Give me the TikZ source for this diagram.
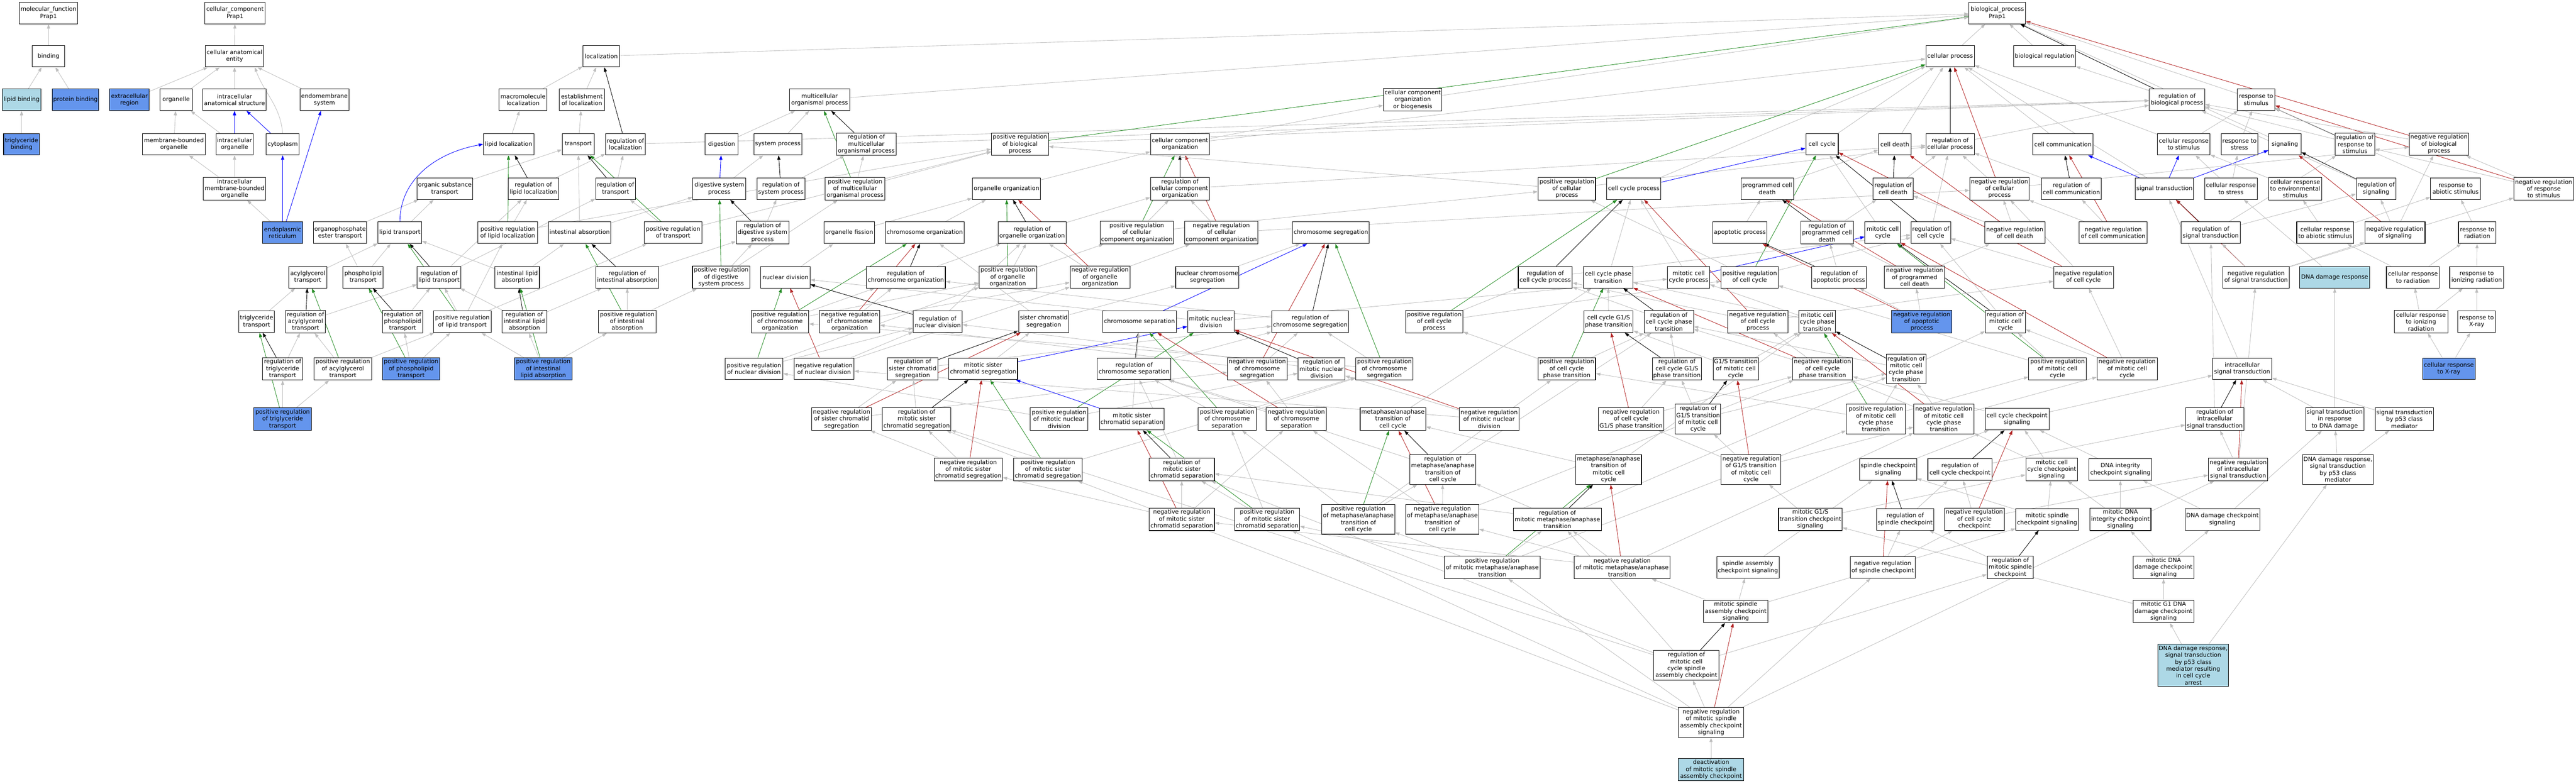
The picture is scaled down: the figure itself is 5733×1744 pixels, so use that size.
\documentclass[tikz,border=0pt]{standalone}
\usepackage{fontspec}
\setmainfont{DejaVu Sans}
\usetikzlibrary{arrows.meta,backgrounds}
\definecolor{edgegray}{RGB}{190,190,190}
\definecolor{cornblue}{RGB}{100,149,237}
\definecolor{lightblueC}{RGB}{173,216,230}
\definecolor{fgreen}{RGB}{34,139,34}
\definecolor{fred}{RGB}{178,34,34}
\newcommand{\gofont}{\fontsize{13}{15.3}\selectfont}
\newcommand{\GN}[6][]{\node[gn,minimum width=#5pt,#1] (#2) at (#3,#4) {#6};}
\newcommand{\EdI}[2]{\draw[eisa] (#1) -- (#2);}
\newcommand{\EdP}[2]{\draw[epart] (#1) -- (#2);}
\newcommand{\EdR}[2]{\draw[ereg] (#1) -- (#2);}
\newcommand{\EdG}[2]{\draw[epos] (#1) -- (#2);}
\newcommand{\EdN}[2]{\draw[eneg] (#1) -- (#2);}
\tikzset{
 gn/.style={draw=black, line width=1.2pt, fill=white, align=center, inner sep=1pt, minimum height=48pt, font=\gofont, text=black},
 h3/.style={minimum height=50pt},
 h4/.style={minimum height=66pt},
 h6/.style={minimum height=94pt},
 fdb/.style={fill=cornblue},
 flb/.style={fill=lightblueC},
 ebase/.style={line width=1pt, -{Triangle[length=10pt,width=7pt]}},
 eisa/.style={ebase, draw=edgegray},
 epart/.style={ebase, draw=blue},
 ereg/.style={ebase, draw=black},
 epos/.style={ebase, draw=fgreen},
 eneg/.style={ebase, draw=fred}
}
\begin{document}
\begin{tikzpicture}[x=1pt,y=-1pt]
\useasboundingbox (0,0) rectangle (5733,1744);
% r0
\GN{mf}{108}{29}{130}{molecular\_function\\Prap1}
\GN{cc}{523}{29}{134}{cellular\_component\\Prap1}
\GN{bp}{4445}{29}{126}{biological\_process\\Prap1}
% r1
\GN{binding}{108}{125}{72}{binding}
\GN{cae}{522}{125}{130}{cellular anatomical\\entity}
\GN{loc}{1338}{125}{81}{localization}
\GN{cellproc}{4340}{125}{108}{cellular process}
\GN{bioreg}{4550}{125}{138}{biological regulation}
% r2
\GN[flb]{lipidbind}{48}{222}{86}{lipid binding}
\GN[fdb]{protbind}{168}{222}{104}{protein binding}
\GN[fdb]{extreg}{288}{222}{88}{extracellular\\region}
\GN{organelle}{392}{222}{72}{organelle}
\GN{ias}{522}{222}{141}{intracellular\\anatomical structure}
\GN{endomem}{722}{222}{109}{endomembrane\\system}
\GN{macroloc}{1164}{222}{106}{macromolecule\\localization}
\GN{estloc}{1295}{222}{100}{establishment\\of localization}
\GN{mop}{1824}{222}{134}{multicellular\\organismal process}
\GN[h3]{ccob}{3144}{222}{130}{cellular component\\organization\\or biogenesis}
\GN{rbp}{4845}{222}{123}{regulation of\\biological process}
\GN{rts}{5021}{222}{83}{response to\\stimulus}
% r3
\GN[fdb]{tgbind}{48}{321}{80}{triglyceride\\binding}
\GN{mbo}{387}{321}{139}{membrane-bounded\\organelle}
\GN{io}{522}{321}{83}{intracellular\\organelle}
\GN{cytoplasm}{629}{321}{74}{cytoplasm}
\GN{lipidloc}{1132}{321}{112}{lipid localization}
\GN{transport}{1287}{321}{72}{transport}
\GN{regloc}{1392}{321}{88}{regulation of\\localization}
\GN{digestion}{1606}{321}{73}{digestion}
\GN{sysproc}{1731}{321}{107}{system process}
\GN[h3]{rmop}{1928}{321}{132}{regulation of\\multicellular\\organismal process}
\GN[h3]{prbp}{2270}{321}{127}{positive regulation\\of biological\\process}
\GN{cco}{2626}{321}{131}{cellular component\\organization}
\GN{cellcycle}{4055}{321}{72}{cell cycle}
\GN{celldeath}{4217}{321}{72}{cell death}
\GN{rcp}{4340}{321}{108}{regulation of\\cellular process}
\GN{cellcomm}{4591}{321}{134}{cell communication}
\GN{crs}{4860}{321}{117}{cellular response\\to stimulus}
\GN{rtstress}{4984}{321}{82}{response to\\stress}
\GN{signaling}{5085}{321}{72}{signaling}
\GN[h3]{rrs}{5241}{321}{88}{regulation of\\response to\\stimulus}
\GN[h3]{nrbp}{5428}{321}{132}{negative regulation\\of biological\\process}
% r4
\GN[h3]{imbo}{522}{420}{139}{intracellular\\membrane-bounded\\organelle}
\GN{ost}{990}{420}{123}{organic substance\\transport}
\GN{rll}{1187}{420}{112}{regulation of\\lipid localization}
\GN{rtrans}{1370}{420}{89}{regulation of\\transport}
\GN{dsp}{1601}{420}{118}{digestive system\\process}
\GN{rsp}{1738}{420}{107}{regulation of\\system process}
\GN[h3]{prmop}{1903}{420}{133}{positive regulation\\of multicellular\\organismal process}
\GN{oo}{2240}{420}{152}{organelle organization}
\GN[h3]{rcco}{2626}{420}{131}{regulation of\\cellular component\\organization}
\GN[h3]{prcp}{3487}{420}{128}{positive regulation\\of cellular\\process}
\GN{ccp}{3636}{420}{121}{cell cycle process}
\GN{pcd}{3933}{420}{117}{programmed cell\\death}
\GN{rcd}{4213}{420}{89}{regulation of\\cell death}
\GN[h3]{nrcp}{4450}{420}{132}{negative regulation\\of cellular\\process}
\GN{rcc}{4610}{420}{133}{regulation of\\cell communication}
\GN{st}{4817}{420}{130}{signal transduction}
\GN{crstress}{4965}{420}{117}{cellular response\\to stress}
\GN[h3]{cres}{5108}{420}{119}{cellular response\\to environmental\\stimulus}
\GN{rsig}{5288}{420}{88}{regulation of\\signaling}
\GN{ras}{5465}{420}{111}{response to\\abiotic stimulus}
\GN[h3]{nrrs}{5661}{420}{133}{negative regulation\\of response\\to stimulus}
% r5
\GN[fdb]{er}{629}{518}{89}{endoplasmic\\reticulum}
\GN{opet}{757}{518}{118}{organophosphate\\ester transport}
\GN{lipidtrans}{890}{518}{97}{lipid transport}
\GN{prll}{1130}{518}{132}{positive regulation\\of lipid localization}
\GN{intabs}{1290}{518}{139}{intestinal absorption}
\GN{prtrans}{1498}{518}{128}{positive regulation\\of transport}
\GN[h3]{rdsp}{1697}{518}{117}{regulation of\\digestive system\\process}
\GN{ofission}{1890}{518}{113}{organelle fission}
\GN{chromorg}{2058}{518}{175}{chromosome organization}
\GN{roo}{2297}{518}{152}{regulation of\\organelle organization}
\GN[h3]{prcco}{2530}{518}{163}{positive regulation\\of cellular\\component organization}
\GN[h3]{nrcco}{2718}{518}{162}{negative regulation\\of cellular\\component organization}
\GN{chromseg}{2962}{518}{171}{chromosome segregation}
\GN{apop}{3872}{518}{120}{apoptotic process}
\GN[h3]{rpcd}{4066}{518}{117}{regulation of\\programmed cell\\death}
\GN{mcc}{4190}{518}{79}{mitotic cell\\cycle}
\GN{rcellcycle}{4297}{518}{88}{regulation of\\cell cycle}
\GN{nrcd}{4484}{518}{134}{negative regulation\\of cell death}
\GN{nrcc}{4703}{518}{151}{negative regulation\\of cell communication}
\GN{rst}{4920}{518}{131}{regulation of\\signal transduction}
\GN{crabs}{5175}{518}{127}{cellular response\\to abiotic stimulus}
\GN{nrsig}{5330}{518}{134}{negative regulation\\of signaling}
\GN{rtrad}{5513}{518}{83}{response to\\radiation}
% r6
\GN{agt}{685}{617}{85}{acylglycerol\\transport}
\GN{plt}{808}{617}{89}{phospholipid\\transport}
\GN{rlt}{977}{617}{97}{regulation of\\lipid transport}
\GN{ila}{1151}{617}{99}{intestinal lipid\\absorption}
\GN{ria}{1396}{617}{139}{regulation of\\intestinal absorption}
\GN[h3]{prdsp}{1605}{617}{128}{positive regulation\\of digestive\\system process}
\GN{nucdiv}{1748}{617}{110}{nuclear division}
\GN{rco}{2016}{617}{176}{regulation of\\chromosome organization}
\GN[h3]{proo}{2243}{617}{128}{positive regulation\\of organelle\\organization}
\GN[h3]{nroo}{2448}{617}{133}{negative regulation\\of organelle\\organization}
\GN{ncs}{2687}{617}{141}{nuclear chromosome\\segregation}
\GN{rccp}{3439}{617}{120}{regulation of\\cell cycle process}
\GN{ccpt}{3579}{617}{110}{cell cycle phase\\transition}
\GN{mccp}{3758}{617}{94}{mitotic cell\\cycle process}
\GN{prcc}{3894}{617}{127}{positive regulation\\of cell cycle}
\GN{rap}{4093}{617}{121}{regulation of\\apoptotic process}
\GN[h3]{nrpcd}{4261}{617}{134}{negative regulation\\of programmed\\cell death}
\GN{nrcellcycle}{4637}{617}{133}{negative regulation\\of cell cycle}
\GN{nrst}{5021}{617}{148}{negative regulation\\of signal transduction}
\GN[flb]{ddr}{5196}{617}{156}{DNA damage response}
\GN{crrad}{5370}{617}{118}{cellular response\\to radiation}
\GN{rir}{5512}{617}{120}{response to\\ionizing radiation}
% r7
\GN{tgt}{571}{716}{80}{triglyceride\\transport}
\GN[h3]{rat}{680}{716}{89}{regulation of\\acylglycerol\\transport}
\GN[h3]{rplt}{896}{716}{90}{regulation of\\phospholipid\\transport}
\GN{prlt}{1029}{716}{128}{positive regulation\\of lipid transport}
\GN[h3]{rila}{1167}{716}{100}{regulation of\\intestinal lipid\\absorption}
\GN[h3]{pria}{1396}{716}{128}{positive regulation\\of intestinal\\absorption}
\GN[h3]{prco}{1736}{716}{128}{positive regulation\\of chromosome\\organization}
\GN[h3]{nrco}{1891}{716}{134}{negative regulation\\of chromosome\\organization}
\GN{rnd}{2087}{716}{109}{regulation of\\nuclear division}
\GN{scs}{2323}{716}{112}{sister chromatid\\segregation}
\GN{csep}{2536}{716}{164}{chromosome separation}
\GN{mnd}{2695}{716}{104}{mitotic nuclear\\division}
\GN{rcs}{2916}{716}{171}{regulation of\\chromosome segregation}
\GN[h3]{prccp}{3192}{716}{128}{positive regulation\\of cell cycle\\process}
\GN{g1s}{3580}{716}{109}{cell cycle G1/S\\phase transition}
\GN[h3]{rccpt}{3714}{716}{110}{regulation of\\cell cycle phase\\transition}
\GN[h3]{nrccp}{3912}{716}{134}{negative regulation\\of cell cycle\\process}
\GN[h3]{mccpt}{4044}{716}{82}{mitotic cell\\cycle phase\\transition}
\GN[h3,fdb]{nrap}{4277}{716}{134}{negative regulation\\of apoptotic\\process}
\GN[h3]{rmcc}{4463}{716}{89}{regulation of\\mitotic cell\\cycle}
\GN[h3]{crir}{5388}{716}{119}{cellular response\\to ionizing\\radiation}
\GN{rxray}{5512}{716}{84}{response to\\X-ray}
% r8
\GN[h3]{rtgt}{629}{821}{89}{regulation of\\triglyceride\\transport}
\GN[h3]{prat}{763}{821}{129}{positive regulation\\of acylglycerol\\transport}
\GN[h3,fdb]{prplt}{915}{821}{128}{positive regulation\\of phospholipid\\transport}
\GN[h3,fdb]{prila}{1209}{821}{128}{positive regulation\\of intestinal\\lipid absorption}
\GN{prnd}{1678}{821}{129}{positive regulation\\of nuclear division}
\GN{nrnd}{1834}{821}{133}{negative regulation\\of nuclear division}
\GN[h3]{rscs}{2031}{821}{113}{regulation of\\sister chromatid\\segregation}
\GN{mscs}{2188}{821}{153}{mitotic sister\\chromatid segregation}
\GN{rcsep}{2524}{821}{164}{regulation of\\chromosome separation}
\GN[h3]{nrcs}{2798}{821}{133}{negative regulation\\of chromosome\\segregation}
\GN[h3]{rmnd}{2941}{821}{104}{regulation of\\mitotic nuclear\\division}
\GN[h3]{prcs}{3081}{821}{128}{positive regulation\\of chromosome\\segregation}
\GN[h3]{prccpt}{3487}{821}{128}{positive regulation\\of cell cycle\\phase transition}
\GN[h3]{rg1s}{3732}{821}{109}{regulation of\\cell cycle G1/S\\phase transition}
\GN[h3]{g1smcc}{3863}{821}{101}{G1/S transition\\of mitotic cell\\cycle}
\GN[h3]{nrccpt}{4056}{821}{134}{negative regulation\\of cell cycle\\phase transition}
\GN[h4]{rmccpt}{4242}{821}{88}{regulation of\\mitotic cell\\cycle phase\\transition}
\GN[h3]{prmcc}{4579}{821}{128}{positive regulation\\of mitotic cell\\cycle}
\GN[h3]{nrmcc}{4734}{821}{134}{negative regulation\\of mitotic cell\\cycle}
\GN{ist}{4990}{821}{131}{intracellular\\signal transduction}
\GN[fdb]{crxray}{5450}{821}{117}{cellular response\\to X-ray}
% r9
\GN[h3,fdb]{prtgt}{629}{933}{128}{positive regulation\\of triglyceride\\transport}
\GN[h3]{nrscs}{1873}{933}{133}{negative regulation\\of sister chromatid\\segregation}
\GN[h3]{rmscs}{2040}{933}{153}{regulation of\\mitotic sister\\chromatid segregation}
\GN[h3]{prmnd}{2357}{933}{128}{positive regulation\\of mitotic nuclear\\division}
\GN{msep}{2519}{933}{144}{mitotic sister\\chromatid separation}
\GN[h3]{prcsep}{2731}{933}{129}{positive regulation\\of chromosome\\separation}
\GN[h3]{nrcsep}{2885}{933}{134}{negative regulation\\of chromosome\\separation}
\GN[h3]{mact}{3100}{933}{146}{metaphase/anaphase\\transition of\\cell cycle}
\GN[h3]{nrmnd}{3314}{933}{133}{negative regulation\\of mitotic nuclear\\division}
\GN[h3]{nrg1s}{3630}{933}{145}{negative regulation\\of cell cycle\\G1/S phase transition}
\GN[h4]{rg1smcc}{3779}{933}{101}{regulation of\\G1/S transition\\of mitotic cell\\cycle}
\GN[h4]{prmccpt}{4175}{933}{132}{positive regulation\\of mitotic cell\\cycle phase\\transition}
\GN[h4]{nrmccpt}{4326}{933}{134}{negative regulation\\of mitotic cell\\cycle phase\\transition}
\GN{ccchk}{4489}{933}{142}{cell cycle checkpoint\\signaling}
\GN[h3]{rist}{4929}{933}{130}{regulation of\\intracellular\\signal transduction}
\GN[h3]{stdna}{5196}{933}{130}{signal transduction\\in response\\to DNA damage}
\GN[h3]{stp53}{5351}{933}{130}{signal transduction\\by p53 class\\mediator}
% r10
\GN[h3]{nrmscs}{2155}{1045}{152}{negative regulation\\of mitotic sister\\chromatid segregation}
\GN[h3]{prmscs}{2332}{1045}{152}{positive regulation\\of mitotic sister\\chromatid segregation}
\GN[h3]{rmscsep}{2630}{1045}{145}{regulation of\\mitotic sister\\chromatid separation}
\GN[h4]{rmact}{3211}{1045}{146}{regulation of\\metaphase/anaphase\\transition of\\cell cycle}
\GN[h4]{mamcc}{3580}{1045}{146}{metaphase/anaphase\\transition of\\mitotic cell\\cycle}
\GN[h4]{nrg1smcc}{3897}{1045}{133}{negative regulation\\of G1/S transition\\of mitotic cell\\cycle}
\GN{spchk}{4202}{1045}{127}{spindle checkpoint\\signaling}
\GN{rccchk}{4362}{1045}{143}{regulation of\\cell cycle checkpoint}
\GN[h3]{mccchk}{4566}{1045}{115}{mitotic cell\\cycle checkpoint\\signaling}
\GN{dnaichk}{4719}{1045}{140}{DNA integrity\\checkpoint signaling}
\GN[h3]{nrist}{4981}{1045}{132}{negative regulation\\of intracellular\\signal transduction}
\GN[h4]{ddrp53}{5203}{1045}{157}{DNA damage response,\\signal transduction\\by p53 class\\mediator}
% r11
\GN[h3]{nrmscsep}{2630}{1156}{145}{negative regulation\\of mitotic sister\\chromatid separation}
\GN[h3]{prmscsep}{2820}{1156}{145}{positive regulation\\of mitotic sister\\chromatid separation}
\GN[h4]{prmact}{3023}{1156}{162}{positive regulation\\of metaphase/anaphase\\transition of\\cell cycle}
\GN[h4]{nrmact}{3210}{1156}{162}{negative regulation\\of metaphase/anaphase\\transition of\\cell cycle}
\GN[h3]{rmmat}{3466}{1156}{196}{regulation of\\mitotic metaphase/anaphase\\transition}
\GN[h3]{mg1schk}{4029}{1156}{142}{mitotic G1/S\\transition checkpoint\\signaling}
\GN{rspchk}{4240}{1156}{127}{regulation of\\spindle checkpoint}
\GN[h3]{nrccchk}{4394}{1156}{133}{negative regulation\\of cell cycle\\checkpoint}
\GN{mspchk}{4556}{1156}{139}{mitotic spindle\\checkpoint signaling}
\GN[h3]{mdnaichk}{4719}{1156}{136}{mitotic DNA\\integrity checkpoint\\signaling}
\GN{ddchk}{4946}{1156}{166}{DNA damage checkpoint\\signaling}
% r12
\GN[h3]{prmmat}{3321}{1263}{213}{positive regulation\\of mitotic metaphase/anaphase\\transition}
\GN[h3]{nrmmat}{3610}{1263}{213}{negative regulation\\of mitotic metaphase/anaphase\\transition}
\GN{sacs}{3890}{1263}{139}{spindle assembly\\checkpoint signaling}
\GN{nrspchk}{4190}{1263}{145}{negative regulation\\of spindle checkpoint}
\GN[h3]{rmspchk}{4474}{1263}{103}{regulation of\\mitotic spindle\\checkpoint}
\GN[h3]{mddchk}{4815}{1263}{135}{mitotic DNA\\damage checkpoint\\signaling}
% r13
\GN[h3]{msacs}{3863}{1361}{144}{mitotic spindle\\assembly checkpoint\\signaling}
\GN[h3]{mg1ddchk}{4815}{1361}{135}{mitotic G1 DNA\\damage checkpoint\\signaling}
% r14
\GN[h4]{rmccsac}{3753}{1481}{145}{regulation of\\mitotic cell\\cycle spindle\\assembly checkpoint}
\GN[h6,flb]{ddrp53arrest}{4881}{1481}{158}{DNA damage response,\\signal transduction\\by p53 class\\mediator resulting\\in cell cycle\\arrest}
% r15
\GN[h4]{nrmsacs}{3808}{1608}{145}{negative regulation\\of mitotic spindle\\assembly checkpoint\\signaling}
% r16
\GN[h3,flb]{deact}{3808}{1713}{145}{deactivation\\of mitotic spindle\\assembly checkpoint}

\begin{pgfonlayer}{background}
% top
\EdI{binding}{mf}
\EdI{lipidbind}{binding}
\EdI{protbind}{binding}
\EdI{tgbind}{lipidbind}
\EdI{cae}{cc}
\EdI{extreg}{cae}
\EdI{organelle}{cae}
\EdI{ias}{cae}
\draw[eisa] (cytoplasm.north) to[out=95,in=-70] ([xshift=45pt]cae.south);
\EdI{endomem}{cae}
\EdI{mbo}{organelle}
\EdI{io}{organelle}
\EdP{io}{ias}
\EdP{cytoplasm}{ias}
\EdI{imbo}{mbo}
\EdI{imbo}{io}
\EdI{er}{imbo}
\EdP{er}{cytoplasm}
\EdP{er}{endomem}
\EdI{loc}{bp}
\EdI{macroloc}{loc}
\EdI{estloc}{loc}
\EdR{regloc}{loc}
\EdI{lipidloc}{macroloc}
\EdI{transport}{estloc}
\EdI{regloc}{rbp}
\EdI{ost}{transport}
\EdR{rll}{lipidloc}
\EdI{rll}{regloc}
\EdR{rtrans}{transport}
\EdI{rtrans}{regloc}
\EdI{opet}{ost}
\EdI{lipidtrans}{ost}
\draw[epart] (lipidtrans.north) to[out=90,in=190] (lipidloc.west);
\EdG{prll}{lipidloc}
\EdI{prll}{rll}
\EdI{prll}{prbp}
\EdI{intabs}{transport}
\EdI{intabs}{dsp}
\EdG{prtrans}{transport}
\EdI{prtrans}{rtrans}
\EdI{prtrans}{prbp}
\EdI{mop}{bp}
\EdI{digestion}{mop}
\EdI{sysproc}{mop}
\EdR{rmop}{mop}
\EdG{prmop}{mop}
\EdI{rmop}{rbp}
\EdG{prbp}{bp}
\EdI{prbp}{rbp}
\EdI{cco}{ccob}
\EdI{cco}{cellproc}
\EdI{ccob}{bp}
\EdP{dsp}{digestion}
\EdI{dsp}{sysproc}
\EdR{rsp}{sysproc}
\EdI{rsp}{rmop}
\EdI{prmop}{rmop}
\EdI{prmop}{prbp}
\EdI{oo}{cco}
\EdR{rcco}{cco}
\EdI{rcco}{rcp}
\EdR{rdsp}{dsp}
\EdI{rdsp}{rsp}
\EdI{ofission}{oo}
\EdI{chromorg}{oo}
\EdR{roo}{oo}
\EdI{roo}{rcco}
\EdG{prcco}{cco}
\EdI{prcco}{rcco}
\EdI{prcco}{prcp}
\EdN{nrcco}{cco}
\EdI{nrcco}{rcco}
\EdI{nrcco}{nrcp}
\EdG{prcp}{cellproc}
\EdI{prcp}{rcp}
\EdI{prcp}{prbp}
\EdP{ccp}{cellcycle}
\EdI{ccp}{cellproc}
\EdI{pcd}{celldeath}
\EdI{celldeath}{cellproc}
\EdI{cellcycle}{cellproc}
\EdR{rcd}{celldeath}
\EdI{rcd}{rcp}
\EdI{apop}{pcd}
\EdR{rpcd}{pcd}
\EdI{rpcd}{rcd}
\EdN{nrpcd}{pcd}
\EdI{nrpcd}{rpcd}
\EdI{nrpcd}{nrcd}
\EdI{mcc}{cellcycle}
\EdR{rcellcycle}{cellcycle}
\EdI{rcellcycle}{rcp}
\EdN{nrcellcycle}{cellcycle}
\EdI{nrcellcycle}{rcellcycle}
\EdI{nrcellcycle}{nrcp}
\EdG{prcc}{cellcycle}
\EdI{prcc}{rcellcycle}
\EdI{prcc}{prcp}
\EdP{mccp}{mcc}
\EdI{mccp}{ccp}
\EdR{rmcc}{mcc}
\EdI{rmcc}{rcellcycle}
\EdG{prmcc}{mcc}
\EdI{prmcc}{rmcc}
\EdI{prmcc}{prcc}
\EdN{nrmcc}{mcc}
\EdI{nrmcc}{rmcc}
\EdI{nrmcc}{nrcellcycle}
\EdR{rap}{apop}
\EdI{rap}{rpcd}
\EdN{nrap}{apop}
\EdI{nrap}{rap}
\EdI{nrap}{nrpcd}
\EdN{nrcd}{celldeath}
\EdI{nrcd}{rcd}
\EdI{nrcd}{nrcp}
\EdR{rcp}{cellproc}
\EdI{rcp}{rbp}
\EdN{nrcp}{cellproc}
\EdI{nrcp}{rcp}
\EdI{nrcp}{nrbp}
\EdI{cellcomm}{cellproc}
\EdR{rcc}{cellcomm}
\EdI{rcc}{rcp}
\EdN{nrcc}{cellcomm}
\EdI{nrcc}{rcc}
\EdI{nrcc}{nrcp}
\EdP{st}{cellcomm}
\EdP{st}{crs}
\EdP{st}{signaling}
\EdI{st}{cellproc}
\EdR{rst}{st}
\EdI{rst}{rsig}
\EdI{rst}{rrs}
\EdN{nrst}{st}
\EdI{nrst}{rst}
\EdI{nrst}{nrsig}
\EdI{nrst}{nrrs}
\EdI{crs}{rts}
\EdI{crs}{cellproc}
\EdI{rtstress}{rts}
\EdI{signaling}{bp}
\EdR{rrs}{rts}
\EdI{rrs}{rbp}
\EdN{nrrs}{rts}
\EdI{nrrs}{rrs}
\EdI{nrrs}{nrbp}
\EdN{nrbp}{bp}
\EdI{nrbp}{rbp}
\EdR{rbp}{bp}
\EdI{rbp}{bioreg}
\EdI{cellproc}{bp}
\EdI{bioreg}{bp}
\EdI{rts}{bp}
\EdI{crstress}{rtstress}
\EdI{crstress}{crs}
\EdI{cres}{crs}
\EdR{rsig}{signaling}
\EdI{rsig}{rbp}
\EdN{nrsig}{signaling}
\EdI{nrsig}{rsig}
\EdI{nrsig}{nrbp}
\EdI{ras}{rts}
\EdI{crabs}{cres}
\EdI{crabs}{ras}
\EdI{rtrad}{ras}
\EdI{ddr}{crstress}
\EdI{crrad}{rtrad}
\EdI{crrad}{crabs}
\EdI{rir}{rtrad}
\EdI{crir}{crrad}
\EdI{crir}{rir}
\EdI{rxray}{rir}
\EdI{crxray}{crir}
\EdI{crxray}{rxray}
\EdI{ist}{st}
\EdR{rist}{ist}
\EdI{rist}{rst}
\EdN{nrist}{ist}
\EdI{nrist}{rist}
\EdI{nrist}{nrst}
\EdI{stdna}{ist}
\EdI{stdna}{ddr}
\EdI{stp53}{ist}
\EdI{ddrp53}{stdna}
\EdI{ddrp53}{stp53}
\EdI{ccchk}{ist}
\EdI{ccchk}{nrccpt}
\EdR{rccchk}{ccchk}
\EdI{rccchk}{rist}
\EdN{nrccchk}{ccchk}
\EdI{nrccchk}{rccchk}
\EdI{nrccchk}{nrist}
\EdI{mccchk}{ccchk}
\EdI{mccchk}{nrmccpt}
\EdI{dnaichk}{ccchk}
\EdI{spchk}{ccchk}
\EdR{rspchk}{spchk}
\EdI{rspchk}{rccchk}
\EdN{nrspchk}{spchk}
\EdI{nrspchk}{rspchk}
\EdI{nrspchk}{nrccchk}
\EdI{mspchk}{spchk}
\EdI{mspchk}{mccchk}
\EdI{mdnaichk}{dnaichk}
\EdI{mdnaichk}{mccchk}
\EdI{ddchk}{dnaichk}
\EdI{ddchk}{stdna}
\EdI{mddchk}{ddchk}
\EdI{mddchk}{mdnaichk}
\EdI{mg1ddchk}{mddchk}
\EdI{mg1ddchk}{mg1schk}
\EdI{ddrp53arrest}{mg1ddchk}
\EdI{ddrp53arrest}{ddrp53}
\EdR{rmspchk}{mspchk}
\EdI{rmspchk}{rspchk}
\EdI{sacs}{spchk}
\EdI{msacs}{sacs}
\EdI{msacs}{mspchk}
\EdI{msacs}{nrmmat}
\EdR{rmccsac}{msacs}
\EdI{rmccsac}{rmspchk}
\EdI{rmccsac}{rmmat}
\EdI{rmccsac}{rmscs}
\EdI{rmccsac}{rmscsep}
\EdN{nrmsacs}{msacs}
\EdI{nrmsacs}{rmccsac}
\EdI{nrmsacs}{nrspchk}
\EdI{nrmsacs}{nrist}
\EdI{nrmsacs}{prmmat}
\EdI{nrmsacs}{prmscs}
\EdI{nrmsacs}{prmscsep}
\EdI{deact}{nrmsacs}
\EdI{mg1schk}{mccchk}
\EdI{mg1schk}{nrg1smcc}
% lipid
\EdI{agt}{lipidtrans}
\EdI{plt}{lipidtrans}
\EdI{plt}{opet}
\EdR{rlt}{lipidtrans}
\EdI{rlt}{rll}
\EdI{rlt}{rtrans}
\EdI{ila}{intabs}
\EdI{ila}{lipidtrans}
\EdR{ria}{intabs}
\EdI{ria}{rdsp}
\EdG{prdsp}{dsp}
\EdI{prdsp}{rdsp}
\EdI{prdsp}{prmop}
\EdI{tgt}{agt}
\EdR{rat}{agt}
\EdI{rat}{rlt}
\EdR{rplt}{plt}
\EdI{rplt}{rlt}
\EdG{prlt}{lipidtrans}
\EdI{prlt}{rlt}
\EdI{prlt}{prll}
\EdI{prlt}{prtrans}
\EdR{rila}{ila}
\EdI{rila}{rlt}
\EdI{rila}{ria}
\EdG{pria}{intabs}
\EdI{pria}{ria}
\EdI{pria}{prdsp}
\EdR{rtgt}{tgt}
\EdI{rtgt}{rat}
\EdG{prat}{agt}
\EdI{prat}{rat}
\EdI{prat}{prlt}
\EdG{prplt}{plt}
\EdI{prplt}{rplt}
\EdI{prplt}{prlt}
\EdG{prila}{ila}
\EdI{prila}{rila}
\EdI{prila}{prlt}
\EdI{prila}{pria}
\EdG{prtgt}{tgt}
\EdI{prtgt}{rtgt}
\EdI{prtgt}{prat}
% chromosome
\EdI{nucdiv}{ofission}
\EdR{rco}{chromorg}
\EdI{rco}{roo}
\EdG{proo}{oo}
\EdI{proo}{roo}
\EdI{proo}{prcco}
\EdN{nroo}{oo}
\EdI{nroo}{roo}
\EdI{nroo}{nrcco}
\EdI{ncs}{chromseg}
\EdG{prco}{chromorg}
\EdI{prco}{rco}
\EdI{prco}{proo}
\EdN{nrco}{chromorg}
\EdI{nrco}{rco}
\EdI{nrco}{nroo}
\EdR{rnd}{nucdiv}
\EdI{rnd}{roo}
\EdI{scs}{ncs}
\EdI{scs}{chromorg}
\EdP{csep}{chromseg}
\EdI{mnd}{nucdiv}
\EdI{mnd}{mccp}
\EdR{rcs}{chromseg}
\EdI{rcs}{rco}
\EdN{nrcs}{chromseg}
\EdI{nrcs}{rcs}
\EdI{nrcs}{nrco}
\EdG{prcs}{chromseg}
\EdI{prcs}{rcs}
\EdI{prcs}{prco}
\EdR{rscs}{scs}
\EdI{rscs}{rcs}
\EdI{mscs}{scs}
\EdP{mscs}{mnd}
\EdG{prnd}{nucdiv}
\EdI{prnd}{rnd}
\EdI{prnd}{proo}
\EdN{nrnd}{nucdiv}
\EdI{nrnd}{rnd}
\EdI{nrnd}{nroo}
\EdR{rcsep}{csep}
\EdI{rcsep}{rcs}
\EdR{rmnd}{mnd}
\EdI{rmnd}{rnd}
\EdN{nrscs}{scs}
\EdI{nrscs}{rscs}
\EdI{nrscs}{nrcs}
\EdR{rmscs}{mscs}
\EdI{rmscs}{rscs}
\EdG{prmnd}{mnd}
\EdI{prmnd}{rmnd}
\EdI{prmnd}{prnd}
\EdP{msep}{mscs}
\EdI{msep}{csep}
\EdG{prcsep}{csep}
\EdI{prcsep}{rcsep}
\EdI{prcsep}{prcs}
\EdN{nrcsep}{csep}
\EdI{nrcsep}{rcsep}
\EdI{nrcsep}{nrcs}
\EdN{nrmscs}{mscs}
\EdI{nrmscs}{rmscs}
\EdI{nrmscs}{nrscs}
\EdG{prmscs}{mscs}
\EdI{prmscs}{rmscs}
\EdI{prmscs}{prcs}
\EdR{rmscsep}{msep}
\EdI{rmscsep}{rcsep}
\EdN{nrmscsep}{msep}
\EdI{nrmscsep}{rmscsep}
\EdI{nrmscsep}{nrcsep}
\EdI{nrmscsep}{nrmscs}
\EdG{prmscsep}{msep}
\EdI{prmscsep}{rmscsep}
\EdI{prmscsep}{prcsep}
\EdN{nrmnd}{mnd}
\EdI{nrmnd}{rmnd}
\EdI{nrmnd}{nrnd}
% cell cycle
\EdR{rccp}{ccp}
\EdI{rccp}{rcellcycle}
\EdI{ccpt}{ccp}
\EdG{prccp}{ccp}
\EdI{prccp}{rccp}
\EdI{prccp}{prcc}
\EdN{nrccp}{ccp}
\EdI{nrccp}{rccp}
\EdI{nrccp}{nrcellcycle}
\EdI{g1s}{ccpt}
\EdR{rccpt}{ccpt}
\EdI{rccpt}{rccp}
\EdI{mccpt}{ccpt}
\EdI{mccpt}{mccp}
\EdG{prccpt}{ccpt}
\EdI{prccpt}{rccpt}
\EdI{prccpt}{prccp}
\EdR{rg1s}{g1s}
\EdI{rg1s}{rccpt}
\EdI{g1smcc}{g1s}
\EdI{g1smcc}{mccpt}
\EdN{nrccpt}{ccpt}
\EdI{nrccpt}{rccpt}
\EdI{nrccpt}{nrccp}
\EdR{rmccpt}{mccpt}
\EdI{rmccpt}{rccpt}
\EdI{rmccpt}{rmcc}
\EdI{mact}{ccpt}
\EdN{nrg1s}{g1s}
\EdI{nrg1s}{rg1s}
\EdI{nrg1s}{nrccpt}
\EdR{rg1smcc}{g1smcc}
\EdI{rg1smcc}{rg1s}
\EdI{rg1smcc}{rmccpt}
\EdG{prmccpt}{mccpt}
\EdI{prmccpt}{rmccpt}
\EdI{prmccpt}{prccpt}
\EdI{prmccpt}{prmcc}
\EdN{nrmccpt}{mccpt}
\EdI{nrmccpt}{rmccpt}
\EdI{nrmccpt}{nrccpt}
\EdI{nrmccpt}{nrmcc}
\EdR{rmact}{mact}
\EdI{rmact}{rccpt}
\EdI{rmact}{rcsep}
\EdI{mamcc}{mact}
\EdI{mamcc}{mccpt}
\EdN{nrg1smcc}{g1smcc}
\EdI{nrg1smcc}{rg1smcc}
\EdI{nrg1smcc}{nrg1s}
\EdI{nrg1smcc}{nrmccpt}
\EdG{prmact}{mact}
\EdI{prmact}{rmact}
\EdI{prmact}{prccpt}
\EdI{prmact}{prcsep}
\EdN{nrmact}{mact}
\EdI{nrmact}{rmact}
\EdI{nrmact}{nrccpt}
\EdI{nrmact}{nrcsep}
\EdR{rmmat}{mamcc}
\EdI{rmmat}{rmact}
\EdI{rmmat}{rmccpt}
\EdI{rmmat}{rmscsep}
\EdG{prmmat}{mamcc}
\EdI{prmmat}{rmmat}
\EdI{prmmat}{prmact}
\EdI{prmmat}{prmccpt}
\EdI{prmmat}{prmscsep}
\EdN{nrmmat}{mamcc}
\EdI{nrmmat}{rmmat}
\EdI{nrmmat}{nrmact}
\EdI{nrmmat}{nrmccpt}
\EdI{nrmmat}{nrmscsep}
\end{pgfonlayer}
\end{tikzpicture}
\end{document}
